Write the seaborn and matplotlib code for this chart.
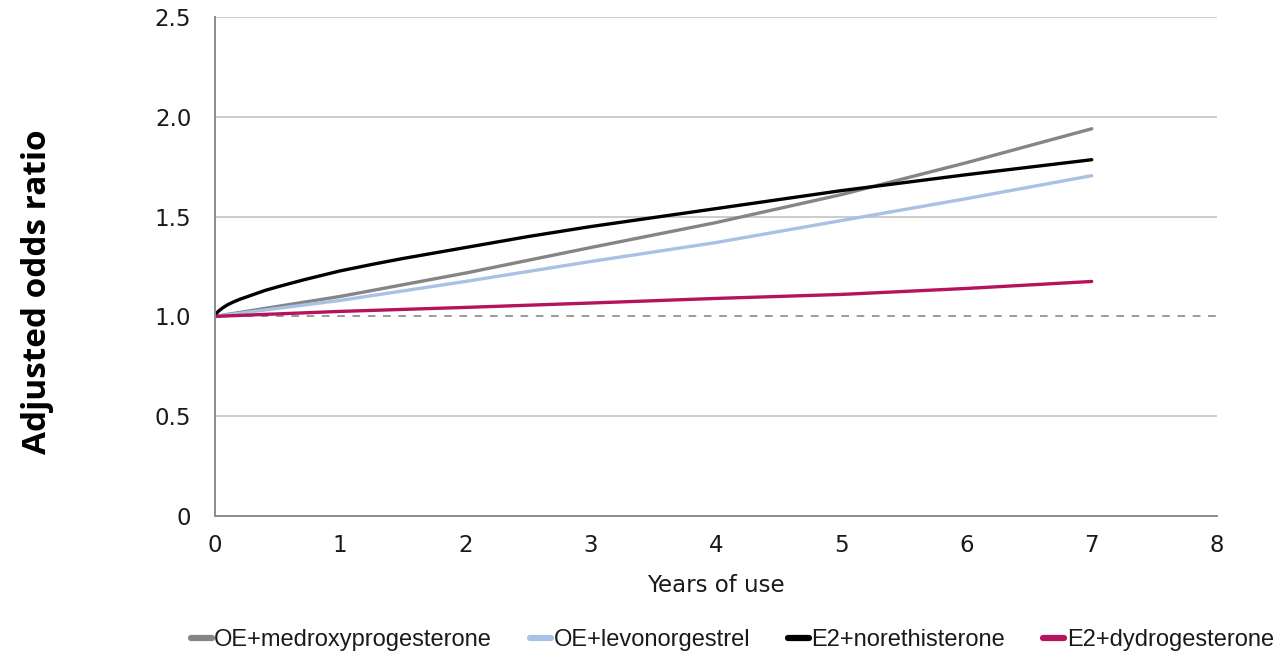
import matplotlib
matplotlib.use("Agg")
import matplotlib.pyplot as plt
from matplotlib import font_manager
import seaborn as sns
import pandas as pd

# ---- data ----
series_names = ["OE+medroxyprogesterone", "OE+levonorgestrel", "E2+norethisterone", "E2+dydrogesterone"]
series_colors = ["#858585", "#a9c1e3", "#000000", "#b5145c"]

years_mpa = [0, 1, 2, 3, 4, 5, 6, 7]
or_mpa = [1.0, 1.10, 1.217, 1.345, 1.47, 1.61, 1.77, 1.94]

years_lng = [0, 1, 2, 3, 4, 5, 6, 7]
or_lng = [1.0, 1.08, 1.175, 1.275, 1.37, 1.48, 1.59, 1.705]

years_neta = [0, 0.01, 0.03, 0.06, 0.1, 0.15, 0.2, 0.3, 0.4, 0.5, 0.6, 0.72, 0.85, 1.0,
              1.25, 1.5, 2, 2.5, 3, 4, 5, 6, 7]
or_neta = [1.0, 1.014, 1.027, 1.042, 1.058, 1.073, 1.086, 1.108, 1.13, 1.148, 1.165, 1.185, 1.205, 1.228,
           1.26, 1.29, 1.345, 1.40, 1.45, 1.54, 1.63, 1.71, 1.785]

years_dyd = [0, 1, 2, 3, 4, 5, 6, 7]
or_dyd = [1.0, 1.025, 1.045, 1.067, 1.09, 1.11, 1.14, 1.175]

x_ticks = [0, 1, 2, 3, 4, 5, 6, 7, 8]
y_ticks = [0, 0.5, 1.0, 1.5, 2.0, 2.5]
y_tick_labels = ["0", "0.5", "1.0", "1.5", "2.0", "2.5"]

frames = []
for name, xs, ys in zip(series_names,
                        [years_mpa, years_lng, years_neta, years_dyd],
                        [or_mpa, or_lng, or_neta, or_dyd]):
    frames.append(pd.DataFrame({"Years of use": xs, "Adjusted odds ratio": ys, "Treatment": name}))
df = pd.concat(frames, ignore_index=True)

sns.set_theme(style="white")
plt.rcParams["font.family"] = ["DejaVu Sans"]

fig = plt.figure(figsize=(12.87, 6.64), dpi=100)
ax = fig.add_axes([0.167, 0.2229, 0.7786, 0.7515])

# grid lines
for yv in [0.5, 1.5, 2.0, 2.5]:
    ax.axhline(yv, color="#c4c4c4", lw=1.2, zorder=0)
ax.axhline(1.0, color="#808080", lw=1.1, ls=(0, (5, 5)), zorder=0)

sns.lineplot(data=df, x="Years of use", y="Adjusted odds ratio", hue="Treatment",
             hue_order=series_names, palette=series_colors, linewidth=2.4,
             ax=ax, legend=True, sort=True, estimator=None)

ax.set_xlim(0, 8)
ax.set_ylim(0, 2.5)
ax.set_xticks(x_ticks)
ax.set_xticklabels([str(t) for t in x_ticks])
ax.set_yticks(y_ticks)
ax.set_yticklabels(y_tick_labels)

for s in ["top", "right"]:
    ax.spines[s].set_visible(False)
for s in ["left", "bottom"]:
    ax.spines[s].set_color("#8c8c8c")
    ax.spines[s].set_linewidth(1.4)

ax.tick_params(axis="both", which="major", direction="out", length=7, width=1.2,
               color="#8c8c8c", labelsize=16.5, labelcolor="#1a1a1a")
ax.tick_params(axis="y", pad=10)
ax.tick_params(axis="x", pad=6)

ax.set_xlabel("Years of use", fontsize=16.5, color="#1a1a1a")
ax.xaxis.set_label_coords(0.5, -0.116)
ax.set_ylabel("Adjusted odds ratio", fontsize=24, fontweight="bold",
              family=["Open Sans", "DejaVu Sans"], color="#000000")
ax.yaxis.set_label_coords(-0.161, 0.45)

handles, labels = ax.get_legend_handles_labels()
ax.get_legend().remove()
for h in handles:
    h.set_linewidth(4.5)
prop = font_manager.FontProperties(family=["Liberation Sans", "DejaVu Sans"], size=17)
leg = fig.legend(handles, labels, loc="center", bbox_to_anchor=(0.569, 0.036), ncol=4,
                 frameon=False, prop=prop, handlelength=0.9, handletextpad=0.1,
                 columnspacing=1.6)
for t in leg.get_texts():
    t.set_color("#1a1a1a")

fig.savefig("out.png", dpi=100)
